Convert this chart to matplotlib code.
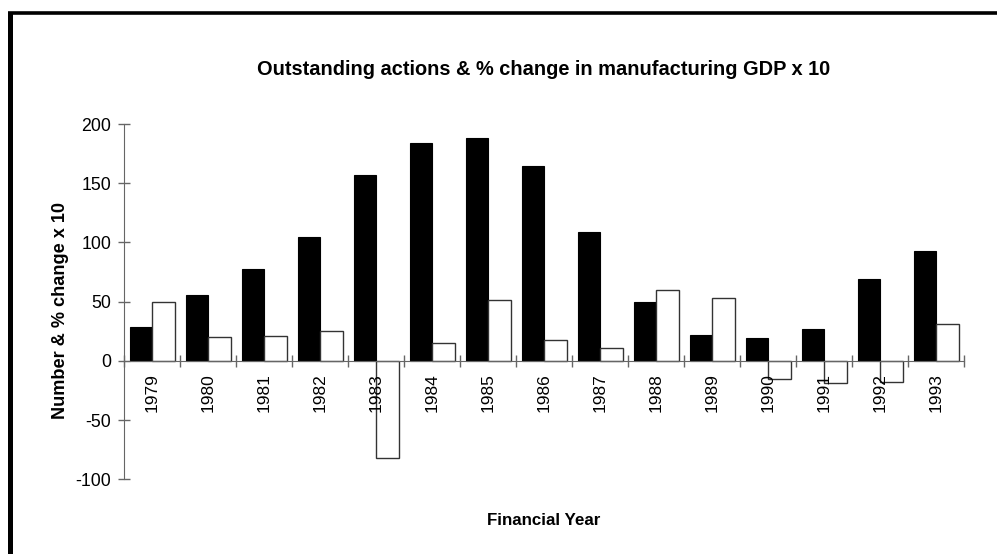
import matplotlib
matplotlib.use("Agg")
import matplotlib.pyplot as plt
from matplotlib.lines import Line2D
import numpy as np

plt.rcParams["font.family"] = ["Liberation Sans", "DejaVu Sans"]
plt.rcParams["axes.unicode_minus"] = False

# Financial years and the two series
years = ["1979", "1980", "1981", "1982", "1983", "1984", "1985", "1986",
         "1987", "1988", "1989", "1990", "1991", "1992", "1993"]
outstanding = [29, 56, 78, 105, 157, 184, 188, 165, 109, 50, 22, 19, 27, 69, 93]
gdp_change_x10 = [50, 20, 21, 25, -82, 15, 51, 18, 11, 60, 53, -15, -19, -18, 31]

AXIS_GREY = "#666666"

fig = plt.figure(figsize=(9.97, 5.54), dpi=100)
ax = fig.add_axes([0.1247, 0.135, 0.967 - 0.1247, 0.776 - 0.135])

x = np.arange(len(years))
w = 0.4
ax.bar(x - w / 2, outstanding, width=w, color="black", edgecolor="black",
       linewidth=0.8)
ax.bar(x + w / 2, gdp_change_x10, width=w, color="white", edgecolor="#333333",
       linewidth=1.0)

ax.set_xlim(-0.5, len(years) - 0.5)
ax.set_ylim(-100, 200)

# spines: only the y axis and a zero line
for side in ("top", "right"):
    ax.spines[side].set_visible(False)
ax.spines["bottom"].set_position(("data", 0))
ax.spines["left"].set_color(AXIS_GREY)
ax.spines["bottom"].set_color(AXIS_GREY)

ax.set_yticks([-100, -50, 0, 50, 100, 150, 200])
ax.tick_params(axis="y", direction="inout", length=9, width=1,
               color=AXIS_GREY, labelsize=12.8, pad=5)

# tick marks on category boundaries, year labels at centres
ax.set_xticks(np.arange(-0.5, len(years), 1.0))
ax.set_xticklabels([])
ax.set_xticks(x, minor=True)
ax.set_xticklabels(years, minor=True, rotation=90)
ax.tick_params(axis="x", which="major", direction="inout", length=9, width=1,
               color=AXIS_GREY)
ax.tick_params(axis="x", which="minor", length=0, labelsize=12.5, pad=9)

fig.text(0.545, 0.874, "Outstanding actions & % change in manufacturing GDP x 10",
         ha="center", va="center", fontsize=14.4, fontweight="bold")
fig.text(0.545, 0.061, "Financial Year", ha="center", va="center",
         fontsize=12.2, fontweight="bold")
fig.text(0.0607, 0.44, "Number & % change x 10", ha="center", va="center",
         rotation=90, fontsize=13.1, fontweight="bold")

# heavy frame along the left and top edges
fig.add_artist(Line2D([0.0105, 0.0105], [0.0, 0.9757], transform=fig.transFigure,
                      color="black", linewidth=3.6, solid_capstyle="butt"))
fig.add_artist(Line2D([0.008, 1.0], [0.9757, 0.9757], transform=fig.transFigure,
                      color="black", linewidth=2.6, solid_capstyle="butt"))

fig.savefig("out.png", dpi=100)
